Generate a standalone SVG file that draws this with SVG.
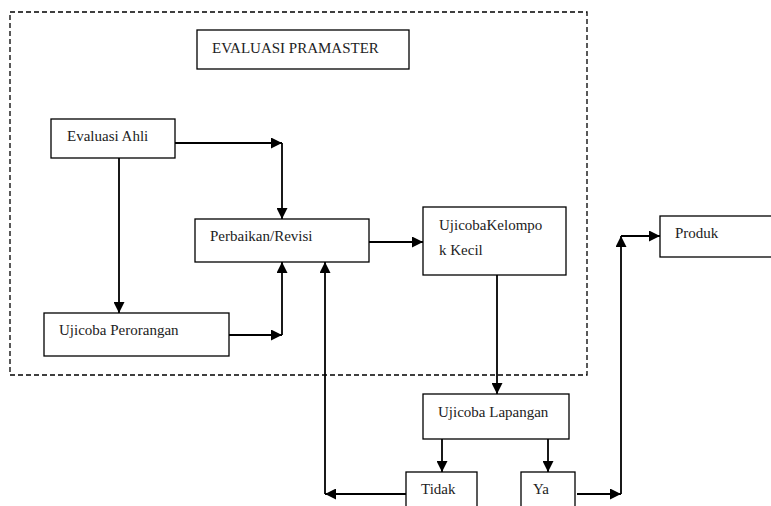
<svg xmlns="http://www.w3.org/2000/svg" width="771" height="506" viewBox="0 0 771 506">
<style>
.box{fill:#fff;stroke:#000;stroke-width:1.3}
.t{font-family:"Liberation Serif","Times New Roman",serif;font-size:15px;fill:#222}
.c{fill:none;stroke:#000;stroke-width:1.8;marker-end:url(#ah)}
.dash{fill:none;stroke:#000;stroke-width:1.3;stroke-dasharray:5 3}
</style>
<defs>
<marker id="ah" markerUnits="userSpaceOnUse" markerWidth="11" markerHeight="11" refX="11" refY="5.5" orient="auto">
<path d="M0,0 L11,5.5 L0,11 z" fill="#000"/>
</marker>
</defs>
<rect width="771" height="506" fill="#fff"/>
<rect class="dash" x="10" y="12" width="577" height="363"/>
<g id="evaluasi-pramaster">
<rect class="box" x="197" y="30" width="212" height="39"/>
<text class="t" x="212" y="53">EVALUASI PRAMASTER</text>
</g>
<g id="evaluasi-ahli">
<rect class="box" x="51" y="119" width="124" height="39"/>
<text class="t" x="67" y="141">Evaluasi Ahli</text>
</g>
<g id="perbaikan">
<rect class="box" x="195" y="219" width="174" height="43"/>
<text class="t" x="210" y="241">Perbaikan/Revisi</text>
</g>
<g id="ujicoba-perorangan">
<rect class="box" x="44" y="313" width="185" height="43"/>
<text class="t" x="59" y="335">Ujicoba Perorangan</text>
</g>
<g id="ujicoba-kelompok">
<rect class="box" x="423" y="207" width="143" height="68"/>
<text class="t" x="439" y="230">UjicobaKelompo</text>
<text class="t" x="439" y="255">k Kecil</text>
</g>
<g id="produk">
<rect class="box" x="660" y="216" width="130" height="41"/>
<text class="t" x="675" y="238">Produk</text>
</g>
<g id="ujicoba-lapangan">
<rect class="box" x="423" y="394" width="146" height="45"/>
<text class="t" x="438" y="417">Ujicoba Lapangan</text>
</g>
<g id="tidak">
<rect class="box" x="406" y="472" width="71" height="50"/>
<text class="t" x="421" y="494">Tidak</text>
</g>
<g id="ya">
<rect class="box" x="521" y="472" width="54" height="50"/>
<text class="t" x="533" y="494">Ya</text>
</g>
<g id="connectors">
<path class="c" d="M175,143 H282"/>
<path class="c" d="M282,143 V219"/>
<path class="c" d="M119,158 V313"/>
<path class="c" d="M229,335 H282"/>
<path class="c" d="M282,335 V262"/>
<path class="c" d="M369,242 H423"/>
<path class="c" d="M497,275 V394"/>
<path class="c" d="M442,439 V472"/>
<path class="c" d="M548,439 V472"/>
<path class="c" d="M406,494 H325"/>
<path class="c" d="M325,494 V262"/>
<path class="c" d="M577,494 H621"/>
<path class="c" d="M621,494 V236"/>
<path class="c" d="M621,236 H660"/>
</g>
</svg>
